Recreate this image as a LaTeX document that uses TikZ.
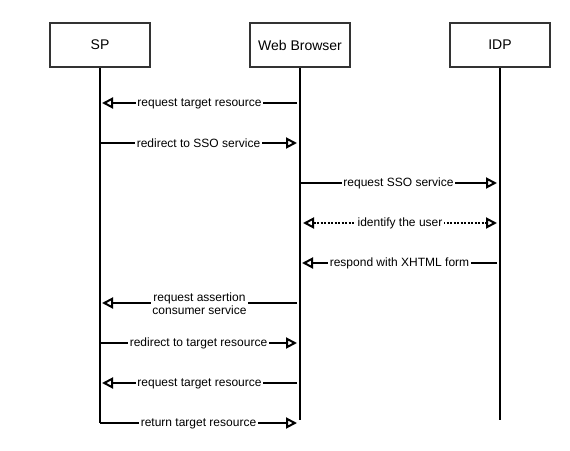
\documentclass[tikz,border=0pt]{standalone}
\usepackage{fontspec}
\setmainfont{Liberation Sans}
\usetikzlibrary{arrows.meta}
\begin{document}
\begin{tikzpicture}[x=1pt,y=-1pt,
  actor/.style={draw=black!80, line width=2pt, minimum width=100pt, minimum height=44pt,
    font=\fontsize{14}{16}\selectfont, inner sep=0pt},
  life/.style={line width=2pt},
  tip/.tip={Triangle[open,length=11pt,width=11pt,line width=2pt]},
  msg/.style={line width=2pt, -tip},
  lbl/.style={fill=white, font=\fontsize{12}{13.5}\selectfont, inner sep=1.5pt, align=center, yshift=-0.5pt}]
\useasboundingbox (0,0) rectangle (570,450);
\node[actor] (sp) at (100,45) {SP};
\node[actor] (wb) at (300,45) {Web Browser};
\node[actor] (idp) at (500,45) {IDP};
\coordinate (spE) at (100,423);
\coordinate (wbE) at (300,420);
\coordinate (idpE) at (500,420);
\draw[life] (sp.south) -- (spE);
\draw[life] (wb.south) -- (wbE);
\draw[life] (idp.south) -- (idpE);
% message endpoints
\coordinate (a1) at (297,103); \coordinate (b1) at (102,103);
\coordinate (a2) at (100,143); \coordinate (b2) at (297,143);
\coordinate (a3) at (300,183); \coordinate (b3) at (497,183);
\coordinate (a4) at (303,223); \coordinate (b4) at (497,223);
\coordinate (a5) at (497,263); \coordinate (b5) at (302,263);
\coordinate (a6) at (297,303); \coordinate (b6) at (102,303);
\coordinate (a7) at (100,343); \coordinate (b7) at (297,343);
\coordinate (a8) at (297,383); \coordinate (b8) at (102,383);
\coordinate (b9) at (297,423);
\draw[msg] (a1) -- node[lbl] {request target resource} (b1);
\draw[msg] (a2) -- node[lbl] {redirect to SSO service} (b2);
\draw[msg] (a3) -- node[lbl] {request SSO service} (b3);
\draw[msg, tip-tip, dash pattern=on 2pt off 1.5pt] (a4) -- node[lbl] {identify the user} (b4);
\draw[msg] (a5) -- node[lbl] {respond with XHTML form} (b5);
\draw[msg] (a6) -- node[lbl] {request assertion\\consumer service} (b6);
\draw[msg] (a7) -- node[lbl] {redirect to target resource} (b7);
\draw[msg] (a8) -- node[lbl] {request target resource} (b8);
\draw[msg] (spE) -- node[lbl] {return target resource} (b9);
\end{tikzpicture}
\end{document}
